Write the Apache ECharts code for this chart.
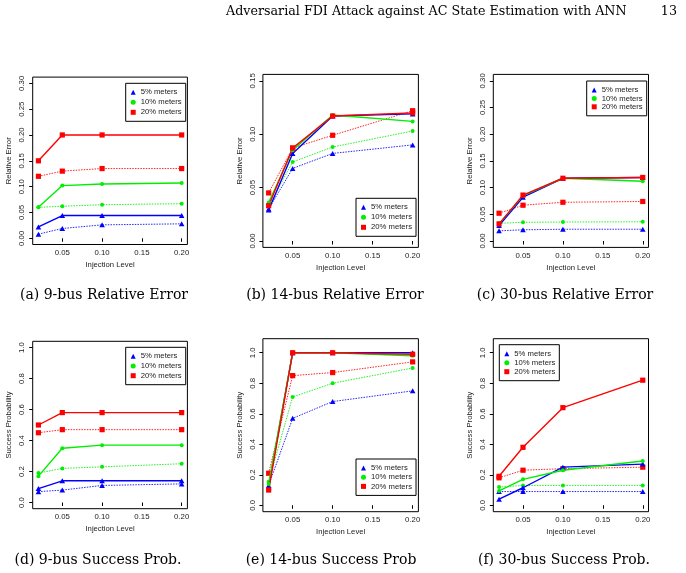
<!DOCTYPE html>
<html>
<head>
<meta charset="utf-8">
<script src="https://cdn.jsdelivr.net/npm/echarts@6/dist/echarts.min.js"></script>
<style>
html,body{margin:0;padding:0;background:#fff;}
#chart{width:686px;height:573px;}
</style>
</head>
<body>
<div id="chart"></div>
<script>
// ---------- shared data ----------
const injection = [0.02, 0.05, 0.10, 0.20];
const xTicks = [0.05, 0.10, 0.15, 0.20];
const reTicks30 = [0, 0.05, 0.10, 0.15, 0.20, 0.25, 0.30];
const reTicks15 = [0, 0.05, 0.10, 0.15];
const spTicks = [0, 0.2, 0.4, 0.6, 0.8, 1.0];
const legendNames = ['5% meters', '10% meters', '20% meters'];
const captions = ['(a) 9-bus Relative Error', '(b) 14-bus Relative Error', '(c) 30-bus Relative Error',
                  '(d) 9-bus Success Prob.', '(e) 14-bus Success Prob', '(f) 30-bus Success Prob.'];
const headerText = 'Adversarial FDI Attack against AC State Estimation with ANN';
const pageNumber = '13';

// (a) 9-bus relative error
const a5solid  = [0.022, 0.044, 0.044, 0.044];
const a5dotted = [0.008, 0.019, 0.026, 0.028];
const a10solid  = [0.060, 0.102, 0.105, 0.107];
const a10dotted = [0.060, 0.062, 0.065, 0.067];
const a20solid  = [0.150, 0.200, 0.200, 0.200];
const a20dotted = [0.120, 0.130, 0.135, 0.135];
// (b) 14-bus relative error
const b5solid  = [0.029, 0.082, 0.117, 0.119];
const b5dotted = [0.030, 0.068, 0.082, 0.090];
const b10solid  = [0.036, 0.085, 0.118, 0.112];
const b10dotted = [0.033, 0.074, 0.088, 0.103];
const b20solid  = [0.033, 0.087, 0.117, 0.120];
const b20dotted = [0.045, 0.087, 0.099, 0.122];
// (c) 30-bus relative error
const c5solid  = [0.029, 0.082, 0.1175, 0.119];
const c5dotted = [0.019, 0.021, 0.022, 0.022];
const c10solid  = [0.032, 0.085, 0.1175, 0.112];
const c10dotted = [0.033, 0.035, 0.0355, 0.036];
const c20solid  = [0.032, 0.086, 0.1175, 0.119];
const c20dotted = [0.052, 0.067, 0.0725, 0.074];
// (d) 9-bus success probability
const d5solid  = [0.09, 0.14, 0.14, 0.14];
const d5dotted = [0.07, 0.08, 0.11, 0.12];
const d10solid  = [0.17, 0.35, 0.37, 0.37];
const d10dotted = [0.19, 0.22, 0.23, 0.25];
const d20solid  = [0.50, 0.58, 0.58, 0.58];
const d20dotted = [0.45, 0.47, 0.47, 0.47];
// (e) 14-bus success probability
const e5solid  = [0.12, 1.00, 1.00, 1.00];
const e5dotted = [0.13, 0.57, 0.68, 0.75];
const e10solid  = [0.14, 1.00, 1.00, 0.98];
const e10dotted = [0.155, 0.71, 0.80, 0.90];
const e20solid  = [0.10, 1.00, 1.00, 0.99];
const e20dotted = [0.21, 0.85, 0.87, 0.94];
// (f) 30-bus success probability
const f5solid  = [0.04, 0.115, 0.25, 0.27];
const f5dotted = [0.09, 0.09, 0.09, 0.09];
const f10solid  = [0.094, 0.17, 0.23, 0.29];
const f10dotted = [0.12, 0.13, 0.13, 0.13];
const f20solid  = [0.19, 0.38, 0.64, 0.82];
const f20dotted = [0.18, 0.23, 0.24, 0.25];

// ---------- layout / style ----------
const COLORS = ['#0000ff', '#00ee00', '#ff0000'];
const SYMBOLS = ['triangle', 'circle', 'rect'];
const SYMSIZE = [[5.6, 5], 4, 5.2];
const SANS = 'Liberation Sans, Arial, Helvetica, sans-serif';
const SERIF = 'DejaVu Serif, Liberation Serif, serif';
const TXT = '#222';

const panels = [
  {grid:{left:32.7, top:77.1, width:154.7, height:167.4}, y:[-0.012, 0.312], ticks:reTicks30, dec:2, name:'Relative Error',
   legend:{left:125.7, top:83.3, gap:2}, data:[[a5solid,a5dotted],[a10solid,a10dotted],[a20solid,a20dotted]], cap:[104, 295]},
  {grid:{left:262.9, top:74.4, width:155.5, height:173}, y:[-0.006, 0.156], ticks:reTicks15, dec:2, name:'Relative Error',
   legend:{left:356, top:198.3, gap:2}, data:[[b5solid,b5dotted],[b10solid,b10dotted],[b20solid,b20dotted]], cap:[335, 295]},
  {grid:{left:493.3, top:74.4, width:155.2, height:173}, y:[-0.012, 0.312], ticks:reTicks30, dec:2, name:'Relative Error',
   legend:{left:586.7, top:81, gap:0.4}, data:[[c5solid,c5dotted],[c10solid,c10dotted],[c20solid,c20dotted]], cap:[565, 295]},
  {grid:{left:32.7, top:341.3, width:154.7, height:167.4}, y:[-0.04, 1.04], ticks:spTicks, dec:1, name:'Success Probability',
   legend:{left:125.7, top:347.3, gap:1.7}, data:[[d5solid,d5dotted],[d10solid,d10dotted],[d20solid,d20dotted]], cap:[98, 560]},
  {grid:{left:262.9, top:338.7, width:155.5, height:173}, y:[-0.042, 1.092], ticks:spTicks, dec:1, name:'Success Probability',
   legend:{left:356, top:459, gap:1.2}, data:[[e5solid,e5dotted],[e10solid,e10dotted],[e20solid,e20dotted]], cap:[331, 560]},
  {grid:{left:493.3, top:338.7, width:155.2, height:173}, y:[-0.042, 1.092], ticks:spTicks, dec:1, name:'Success Probability',
   legend:{left:499.3, top:344.7, gap:1}, data:[[f5solid,f5dotted],[f10solid,f10dotted],[f20solid,f20dotted]], cap:[564, 560]}
];

const grids = [], xAxes = [], yAxes = [], legends = [], series = [], graphics = [];

panels.forEach((p, i) => {
  grids.push(Object.assign({show:true, borderColor:'#000', borderWidth:1, backgroundColor:'transparent'}, p.grid));
  xAxes.push({
    type:'value', gridIndex:i, min:0.0128, max:0.2072,
    axisLine:{show:false}, splitLine:{show:false},
    axisTick:{show:true, customValues:xTicks, length:3.5, lineStyle:{color:'#000', width:1}},
    axisLabel:{customValues:xTicks, formatter:v => v.toFixed(2), fontSize:7.8, margin:4.5, color:TXT, fontFamily:SANS},
    name:'Injection Level', nameLocation:'middle', nameGap:16.5,
    nameTextStyle:{fontSize:7.7, color:TXT, fontFamily:SANS}
  });
  yAxes.push({
    type:'value', gridIndex:i, min:p.y[0], max:p.y[1],
    axisLine:{show:false}, splitLine:{show:false},
    axisTick:{show:true, customValues:p.ticks, length:3.5, lineStyle:{color:'#000', width:1}},
    axisLabel:{customValues:p.ticks, formatter:v => v.toFixed(p.dec), fontSize:7.8, margin:6.5, rotate:90, color:TXT, fontFamily:SANS},
    name:p.name, nameLocation:'middle', nameGap:19.5,
    nameTextStyle:{fontSize:7.7, color:TXT, fontFamily:SANS}
  });
  legends.push({
    orient:'vertical', left:p.legend.left, top:p.legend.top,
    data:legendNames.map((n, k) => ({name:n, icon:SYMBOLS[k]})),
    itemWidth:5, itemHeight:5, itemGap:p.legend.gap,
    padding:[5, 4, 5, 5], borderColor:'#000', borderWidth:1, backgroundColor:'#fff',
    selectedMode:false,
    textStyle:{fontSize:7.7, fontFamily:SANS, color:TXT, lineHeight:8}
  });
  // dotted series first, then solid on top
  [1, 0].forEach(variant => {
    p.data.forEach((pair, k) => {
      const vals = pair[variant];
      series.push({
        type:'line', name:legendNames[k], xAxisIndex:i, yAxisIndex:i,
        data:injection.map((x, j) => [x, vals[j]]),
        symbol:SYMBOLS[k], symbolSize:SYMSIZE[k], showSymbol:true,
        lineStyle:{color:COLORS[k], width:variant === 0 ? 1.4 : 1, type:variant === 0 ? 'solid' : [1.5, 1.2], opacity:variant === 0 ? 1 : 0.85},
        itemStyle:{color:COLORS[k]},
        emphasis:{disabled:true}, silent:true, animation:false,
        z:variant === 0 ? 3 : 2
      });
    });
  });
  graphics.push({type:'text', x:p.cap[0], y:p.cap[1],
    style:{text:captions[i], fontSize:14, fontFamily:SERIF, fill:'#000', textAlign:'center', textVerticalAlign:'middle'}});
});

graphics.push({type:'text', x:226, y:12,
  style:{text:headerText, fontSize:12.7, fontFamily:SERIF, fill:'#000', textAlign:'left', textVerticalAlign:'middle'}});
graphics.push({type:'text', x:677, y:12,
  style:{text:pageNumber, fontSize:12.7, fontFamily:SERIF, fill:'#000', textAlign:'right', textVerticalAlign:'middle'}});

const chart = echarts.init(document.getElementById('chart'), null, {renderer:'canvas'});
chart.setOption({
  animation:false,
  backgroundColor:'#fff',
  grid:grids, xAxis:xAxes, yAxis:yAxes, legend:legends, series:series, graphic:graphics
});
</script>
</body>
</html>
